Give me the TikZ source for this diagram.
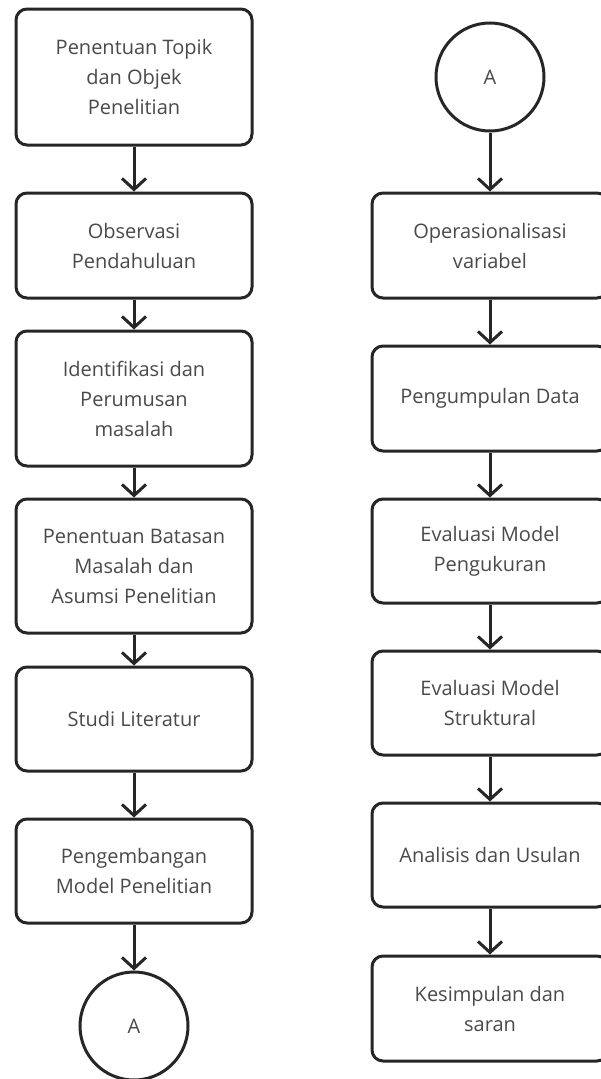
\documentclass[tikz,border=0pt]{standalone}
\usepackage{fontspec}
\setmainfont{Open Sans}
\usetikzlibrary{arrows.meta}
\definecolor{edge}{HTML}{262626}
\definecolor{txt}{HTML}{4A4A4A}
\tikzset{
  stepbox/.style={draw=edge, line width=3pt, rounded corners=11pt, minimum width=236pt,
    align=center, text=txt, font=\fontsize{20}{30}\selectfont, inner sep=0pt, fill=white},
  conn/.style={draw=edge, line width=3pt, circle, minimum size=108pt, inner sep=0pt,
    text=txt, font=\fontsize{20}{30}\selectfont},
  flow/.style={draw=edge, line width=3pt, -{Straight Barb[length=11pt,width=24pt,line width=3pt]}}
}
\begin{document}
\begin{tikzpicture}[x=1pt,y=-1pt]
\clip (0,0) rectangle (601,1079);
\useasboundingbox (0,0) rectangle (601,1079);
% left column
\node[stepbox, minimum height=136pt] (l1) at (134,77) {Penentuan Topik\\dan Objek\\Penelitian};
\node[stepbox, minimum height=105pt] (l2) at (134,245.5) {Observasi\\Pendahuluan};
\node[stepbox, minimum height=135pt] (l3) at (134,398.5) {Identifikasi dan\\Perumusan\\masalah};
\node[stepbox, minimum height=134pt] (l4) at (134,566) {Penentuan Batasan\\Masalah dan\\Asumsi Penelitian};
\node[stepbox, minimum height=104pt] (l5) at (134,719) {Studi Literatur};
\node[stepbox, minimum height=104pt] (l6) at (134,871) {Pengembangan\\Model Penelitian};
\node[conn] (la) at (134,1026) {A};
% right column
\node[conn] (ra) at (490,77) {A};
\node[stepbox, minimum height=105pt] (r1) at (490,245.5) {Operasionalisasi\\variabel};
\node[stepbox, minimum height=105pt] (r2) at (490,398.5) {Pengumpulan Data};
\node[stepbox, minimum height=104pt] (r3) at (490,551) {Evaluasi Model\\Pengukuran};
\node[stepbox, minimum height=104pt] (r4) at (490,703) {Evaluasi Model\\Struktural};
\node[stepbox, minimum height=104pt] (r5) at (490,855) {Analisis dan Usulan};
\node[stepbox, minimum height=105pt] (r6) at (490,1008.5) {Kesimpulan dan\\saran};
% connectors
\draw[flow] (l1) -- (l2);
\draw[flow] (l2) -- (l3);
\draw[flow] (l3) -- (l4);
\draw[flow] (l4) -- (l5);
\draw[flow] (l5) -- (l6);
\draw[flow] (l6) -- (la);
\draw[flow] (ra) -- (r1);
\draw[flow] (r1) -- (r2);
\draw[flow] (r2) -- (r3);
\draw[flow] (r3) -- (r4);
\draw[flow] (r4) -- (r5);
\draw[flow] (r5) -- (r6);
\end{tikzpicture}
\end{document}
